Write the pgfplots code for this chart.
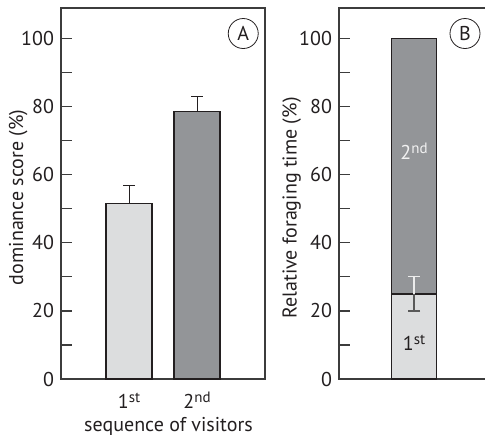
\documentclass[border=0pt]{standalone}
\usepackage{fontspec}
\setmainfont{PT Sans}
\usepackage{pgfplots}
\pgfplotsset{compat=1.18}
\definecolor{barlight}{HTML}{DCDDDE}
\definecolor{bardark}{HTML}{939598}
\definecolor{ink}{HTML}{231F20}
\definecolor{axisgray}{HTML}{3C3C3C}
\newcommand{\ordsup}[1]{\raisebox{0.28em}{\fontsize{7.5}{9}\selectfont #1}}

\pgfplotsset{
  panel/.style={
    scale only axis,
    anchor=south west,
    ymin=0, ymax=109,
    ytick={0,20,...,100},
    minor y tick num=1,
    ytick pos=left,
    tick align=inside,
    major tick length=5.5pt,
    minor tick length=5.5pt,
    every tick/.style={axisgray, line width=0.6pt},
    axis line style={axisgray, line width=0.6pt},
    tick label style={font=\fontsize{10}{12}\selectfont, text=ink},
    label style={font=\fontsize{10}{12}\selectfont, text=ink},
    /pgf/number format/assume math mode=true,
    clip=false,
  },
  errbar/.style={
    error bars/.cd, y dir=plus, y explicit,
    error bar style={ink, line width=0.5pt},
    error mark options={rotate=90, mark size=3pt, ink, line width=0.5pt},
  },
}

\begin{document}
\begin{tikzpicture}
\useasboundingbox (0,0) rectangle (242.5pt,219.5pt);
\clip (0,0) rectangle (242.5pt,219.5pt);

% panel A
\begin{axis}[panel,
    at={(30.5pt,30pt)}, width=102pt, height=185.5pt,
    xmin=0, xmax=3,
    xtick={1,2},
    xticklabels={1\ordsup{st}, 2\ordsup{nd}},
    x tick style={draw=none},
    xticklabel style={anchor=base, yshift=-14.5pt},
    xlabel={sequence of visitors},
    xlabel style={at={(axis description cs:0.527,0)}, anchor=base, yshift=-26.3pt},
    ylabel={dominance score (\%)},
    ylabel style={at={(axis description cs:-0.21,0.49)}, anchor=center},
]
\addplot[ybar, bar width=23pt, fill=barlight, draw=ink, line width=0.6pt, errbar]
  coordinates {(1,51.5) +- (0,5.3)};
\addplot[ybar, bar width=23pt, fill=bardark, draw=ink, line width=0.6pt, errbar]
  coordinates {(2,78.6) +- (0,4.3)};
\node[circle, draw=ink, line width=0.4pt, minimum size=15pt, inner sep=0pt,
      font=\fontsize{10}{12}\selectfont, text=ink] at (axis cs:2.68,101.5) {A};
\end{axis}

% panel B
\begin{axis}[panel,
    at={(169.5pt,30pt)}, width=75pt, height=185.5pt,
    xmin=0, xmax=2,
    xtick=\empty,
    ylabel={Relative foraging time (\%)},
    ylabel style={at={(axis description cs:-0.315,0.461)}, anchor=center},
]
\addplot[ybar, bar width=22.5pt, fill=bardark, draw=ink, line width=0.6pt]
  coordinates {(1,100)};
\addplot[ybar, bar width=22.5pt, fill=barlight, draw=ink, line width=0.6pt]
  coordinates {(1,25)};
% error bar: upper half light, lower half dark
\addplot[draw=none, mark=none, forget plot,
    error bars/.cd, y dir=plus, y explicit,
    error bar style={white!85!gray, line width=0.6pt},
    error mark options={rotate=90, mark size=3pt, white!85!gray, line width=0.6pt}]
  coordinates {(1,25) +- (0,5)};
\addplot[draw=none, mark=none, forget plot,
    error bars/.cd, y dir=minus, y explicit,
    error bar style={gray!70!black, line width=0.6pt},
    error mark options={rotate=90, mark size=3pt, gray!70!black, line width=0.6pt}]
  coordinates {(1,25) +- (0,5)};
\node[font=\fontsize{10}{12}\selectfont, text=white!90!gray] at (axis cs:1,67) {2\ordsup{nd}};
\node[font=\fontsize{10}{12}\selectfont, text=ink] at (axis cs:1,10.6) {1\ordsup{st}};
\node[circle, draw=ink, line width=0.4pt, minimum size=15pt, inner sep=0pt,
      font=\fontsize{10}{12}\selectfont, text=ink] at (axis cs:1.68,101.5) {B};
\end{axis}
\end{tikzpicture}
\end{document}
